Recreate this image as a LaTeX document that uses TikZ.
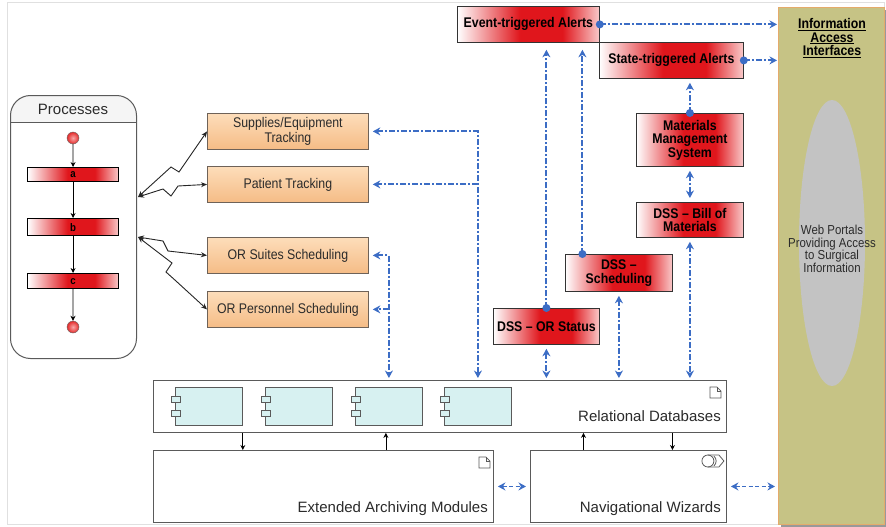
\documentclass[tikz,border=0pt]{standalone}
\usepackage{fontspec}
\setmainfont{Liberation Sans}
\newfontfamily\cond{Liberation Sans}[FakeStretch=0.88]
\usetikzlibrary{arrows.meta,calc,shapes.geometric}

\definecolor{linkblue}{HTML}{3C6DC5}
\definecolor{alertred}{HTML}{E0161C}
\definecolor{alertpink}{HTML}{F9CACA}
\definecolor{peachtop}{HTML}{FDDDBA}
\definecolor{peachbot}{HTML}{F5BC86}
\definecolor{peachline}{HTML}{6E6258}
\definecolor{iaifill}{HTML}{C6C385}
\definecolor{iailine}{HTML}{E5AB6B}
\definecolor{portalgray}{HTML}{C3C3C3}
\definecolor{compfill}{HTML}{D7F1F1}
\definecolor{boxline}{HTML}{5A5A5A}
\definecolor{inktext}{HTML}{2B2B2B}
\definecolor{ballin}{HTML}{F8A8A8}
\definecolor{ballout}{HTML}{E42A2A}

\pgfdeclarehorizontalshading{alertfade}{100bp}{color(0bp)=(white); color(25bp)=(white); color(47bp)=(alertred); color(62bp)=(alertred); color(75bp)=(alertpink); color(100bp)=(alertpink)}

\tikzset{
  alertbox/.style={draw=black!80, line width=0.8pt, shading=alertfade, anchor=north west,
    inner sep=0pt, align=center, text=black, font=\cond\bfseries\fontsize{14}{13.5}\selectfont},
  taskbox/.style={draw=peachline, line width=0.8pt, top color=peachtop, bottom color=peachbot,
    anchor=north west, inner sep=0pt, minimum width=161pt, minimum height=36pt, align=center,
    text=inktext, font=\cond\fontsize{14}{12.5}\selectfont},
  pbar/.style={draw=black, line width=1.2pt, shading=alertfade, anchor=north west, inner sep=0pt,
    minimum width=91pt, font=\cond\bfseries\fontsize{11}{11}\selectfont},
  pball/.style={circle, draw=black!60, inner color=ballin, outer color=ballout, minimum size=12pt, inner sep=0pt},
  modbox/.style={draw=boxline, line width=0.9pt, fill=white, anchor=north west, inner sep=0pt},
  comp/.style={draw=boxline, line width=0.8pt, fill=compfill, anchor=north west, inner sep=0pt,
    minimum width=67pt, minimum height=38pt},
  comptab/.style={draw=boxline, line width=0.8pt, fill=compfill},
  biglabel/.style={text=inktext, inner sep=0pt, font=\fontsize{15}{15}\selectfont},
  bline/.style={draw=linkblue, line width=1.9pt, dash pattern=on 6pt off 2pt on 2pt off 2pt,
    >={Stealth[length=7.5pt,width=8pt]}},
  bdash/.style={draw=linkblue, line width=1.9pt, dash pattern=on 4pt off 2.5pt,
    >={Stealth[length=7.5pt,width=8pt]}},
  blk/.style={draw=black, line width=0.8pt, >={Stealth[length=5pt,width=5pt]}},
  bolt/.style={draw=black!85, line width=0.9pt, >={Stealth[length=6pt,width=5pt]}},
  docicon/.pic={
    \draw[boxline, line width=0.8pt, fill=white] (0,0) -- (7,0) -- (11,4) -- (11,11) -- (0,11) -- cycle;
    \draw[boxline, line width=0.8pt] (7,0) -- (7,4) -- (11,4);
  },
  navicon/.pic={
    \draw[boxline, line width=0.8pt] (6,0) -- (17,0) -- (22,6) -- (17,12) -- (6,12);
    \draw[boxline, line width=0.8pt] (6,6) circle (6pt);
    \draw[boxline, line width=0.8pt] (12,1) .. controls (15,4) and (15,8) .. (12,11);
  }
}

\begin{document}
\begin{tikzpicture}[x=1pt, y=-1pt]
\useasboundingbox (0,0) rectangle (886,527);
\fill[white] (0,0) rectangle (886,527);
\draw[black!12, line width=1pt] (7,3) rectangle (884,524);

% ---------- Processes swimlane ----------
\begin{scope}
  \clip[rounded corners=20pt] (10,95) rectangle (136,358);
  \fill[black!4] (10,95) rectangle (136,122);
\end{scope}
\node[draw=boxline, line width=1pt, rounded corners=20pt, anchor=north west, inner sep=0pt,
      minimum width=126pt, minimum height=263pt] (proc) at (10,95) {};
\draw[boxline, line width=1pt] ($(proc.north west)+(0,27)$) -- ($(proc.north east)+(0,27)$);
\node[biglabel] (proct) at (73,109) {Processes};

\node[pball] (st) at (73,138) {};
\node[pbar, minimum height=14pt] (a) at (27,167) {a};
\node[pbar, minimum height=17pt] (b) at (27,218) {b};
\node[pbar, minimum height=15pt] (c) at (27,273) {c};
\node[pball] (en) at (73,327) {};
\draw[blk, ->] (st) -- (a);
\draw[blk, ->] (a) -- (b);
\draw[blk, ->] (b) -- (c);
\draw[blk, ->] (c) -- (en);

% ---------- tracking / scheduling tasks ----------
\node[taskbox] (sup) at (207,113) {Supplies/Equipment\\Tracking};
\node[taskbox] (pat) at (207,166) {Patient Tracking};
\node[taskbox] (suite) at (207,237) {OR Suites Scheduling};
\node[taskbox] (pers) at (207,291) {OR Personnel Scheduling};

\coordinate (pA) at (138,197);
\coordinate (pB) at (138,237);
\draw[bolt, <->] (pA) -- (171,167) -- (179,172) -- (sup.west);
\draw[bolt, <->] (pA) -- (163,189) -- (171,196) -- (178,186) -- (pat.west);
\draw[bolt, <->] (pB) -- (163,241) -- (168,251) -- (suite.west);
\draw[bolt, <->] (pB) -- (172,263) -- (166,272) -- (176,281) -- (pers.west);

% ---------- data layer ----------
\node[modbox, minimum width=573pt, minimum height=52pt] (rdb) at (153,380) {};
\node[comp] (c1) at (175,387) {};
\node[comp] (c2) at (265,387) {};
\node[comp] (c3) at (355,387) {};
\node[comp] (c4) at (444,387) {};
\foreach \k in {c1,c2,c3,c4}{
  \draw[comptab] ($(\k.north west)+(-3.5,9)$) rectangle ++(9,6);
  \draw[comptab] ($(\k.north west)+(-3.5,23)$) rectangle ++(9,6);
}
\pic at ($(rdb.north east)+(-17,7)$) {docicon};
\node[biglabel, anchor=base east] (rdbl) at (721,421) {Relational Databases};

\node[modbox, minimum width=340pt, minimum height=72pt] (ext) at (153,450) {};
\pic at ($(ext.north east)+(-15,7)$) {docicon};
\node[biglabel, anchor=base east] (extl) at (488,512) {Extended Archiving Modules};

\node[modbox, minimum width=196pt, minimum height=72pt] (nav) at (530,450) {};
\pic at ($(nav.north east)+(-25,5)$) {navicon};
\node[biglabel, anchor=base east] (navl) at (721,512) {Navigational Wizards};

\draw[blk, ->] (c1.east |- rdb.south) -- (c1.east |- ext.north);
\draw[blk, ->] ([xshift=-3pt]c3.south |- ext.north) -- ([xshift=-3pt]c3.south |- rdb.south);
\draw[blk, ->] ([xshift=-45pt]nav.north) -- ([xshift=-45pt]nav.north |- rdb.south);
\draw[blk, ->] ([xshift=44pt]nav.north |- rdb.south) -- ([xshift=44pt]nav.north);

% ---------- information access interfaces ----------
\fill[black!40] (781,10) rectangle (886,527);
\node[draw=iailine, line width=1.2pt, fill=iaifill, anchor=north west, inner sep=0pt,
      minimum width=106pt, minimum height=517pt] (iai) at (778,7) {};
\node[align=center, inner sep=0pt, text=black, font=\cond\bfseries\fontsize{14}{13.5}\selectfont]
  (iait) at (832,38) {\underline{Information}\\\underline{Access}\\\underline{Interfaces}};
\node[ellipse, fill=portalgray, minimum width=66pt, minimum height=286pt, inner sep=0pt] (portal) at (832,243) {};
\node[align=center, inner sep=0pt, text=inktext, font=\cond\fontsize{13}{12.5}\selectfont]
  (portalt) at (832,249) {Web Portals\\Providing Access\\to Surgical\\Information};

% ---------- alerts and decision support ----------
\node[alertbox, minimum width=142pt, minimum height=36pt] (evt) at (457,6) {Event-triggered Alerts};
\node[alertbox, minimum width=144pt, minimum height=36pt] (sta) at (599,42) {State-triggered Alerts};
\node[alertbox, minimum width=107pt, minimum height=53pt] (mms) at (636,113) {Materials\\Management\\System};
\node[alertbox, minimum width=107pt, minimum height=35pt] (bom) at (636,202) {DSS – Bill of\\Materials};
\node[alertbox, minimum width=107pt, minimum height=37pt] (sch) at (565,254) {DSS –\\Scheduling};
\node[alertbox, minimum width=106pt, minimum height=36pt] (ors) at (493,308) {DSS – OR Status};

% blue links
\draw[bline, ->, shorten >=1pt] (evt.east) -- (evt.east -| iai.west);
\fill[linkblue] (evt.east) circle (4pt);
\draw[bline, ->, shorten >=1pt] (sta.east) -- (sta.east -| iai.west);
\fill[linkblue] (sta.east) circle (4pt);
\draw[bline, ->, shorten >=4pt] (mms.north) -- (mms.north |- sta.south);
\fill[linkblue] (mms.north) circle (4pt);
\draw[bline, <->, shorten <=4pt, shorten >=4pt] (mms.south) -- (bom.north);
\draw[bline, <->, shorten <=4pt, shorten >=2pt] (bom.south) -- (bom.south |- rdb.north);
\draw[bline, <->, shorten <=4pt, shorten >=2pt] (sch.south) -- (sch.south |- rdb.north);
\draw[bline, <->, shorten <=4pt, shorten >=2pt] (ors.south) -- (ors.south |- rdb.north);
\draw[bline, ->, shorten >=7pt] (ors.north) -- (ors.north |- evt.south);
\fill[linkblue] (ors.north) circle (4pt);
\draw[bline, ->, shorten >=7pt] ([xshift=-36.5pt]sch.north) -- ([xshift=-36.5pt]sch.north |- evt.south);
\fill[linkblue] ([xshift=-36.5pt]sch.north) circle (4pt);

\draw[bline, <->, shorten <=4pt, shorten >=2pt] (sup.east) -| (c4.north |- rdb.north);
\draw[bline, ->, shorten >=4pt] (pat.east -| c4.north) -- (pat.east);
\draw[bline, <->, shorten <=4pt, shorten >=2pt] (suite.east) -| (c3.north |- rdb.north);
\draw[bline, ->, shorten >=4pt] (pers.east -| c3.north) -- (pers.east);

\draw[bdash, <->, shorten <=4pt, shorten >=4pt] (ext.east) -- (nav.west);
\draw[bdash, <->, shorten <=4pt, shorten >=3pt] (nav.east) -- (nav.east -| iai.west);
\end{tikzpicture}
\end{document}
